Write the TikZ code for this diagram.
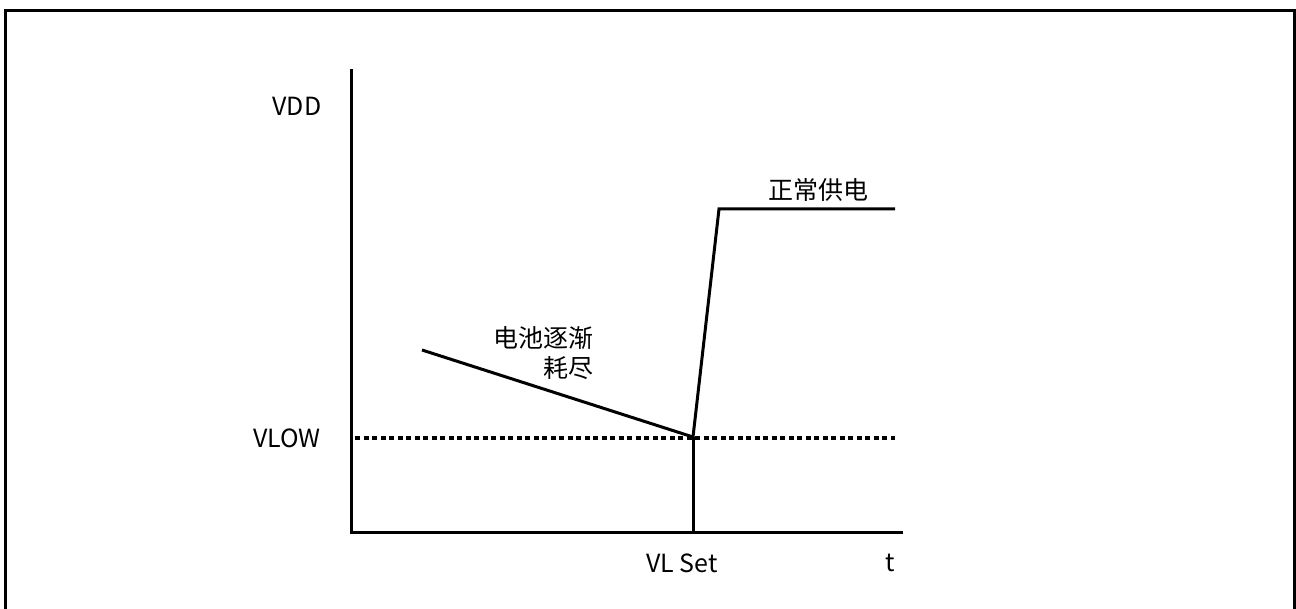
\documentclass[tikz,border=0pt]{standalone}
\usepackage{fontspec}
\setmainfont{Noto Sans CJK SC}
\begin{document}
\begin{tikzpicture}[x=1pt,y=-1pt,
  lbl/.style={font=\fontsize{25}{30}\selectfont, inner sep=0pt, anchor=center},
  curve/.style={line width=3pt, line join=miter},
  guide/.style={line width=3pt, dash pattern=on 5pt off 3.5pt}]
\useasboundingbox (0,0) rectangle (1296,609);
% frame
\draw[line width=2.7pt] (5.3,620) -- (5.3,10.3) -- (1294.5,10.3) -- (1294.5,620);
% axes
\coordinate (ytop) at (351,69);
\coordinate (orig) at (351,532);
\coordinate (xend) at (903,532);
\draw[line width=3pt] (ytop) -- (orig) -- (xend);
% points
\coordinate (dstart) at (422,350);
\coordinate (vl) at (693,437);
\coordinate (vlbase) at (693,532);
\coordinate (rise) at (719,209);
\coordinate (hend) at (895,209);
\coordinate (dashL) at (355,438);
\coordinate (dashR) at (895,438);
\draw[guide] (dashL) -- (dashR);
\draw[line width=3pt] (vl) -- (vlbase);
\draw[curve] (dstart) -- (vl) -- (rise) -- (hend);
% labels
\node[lbl] (vdd) at (297,106) {VDD};
\node[lbl] (vlow) at (287,438) {VLOW};
\node[lbl] (vlset) at (682,563) {VL Set};
\node[lbl] (t) at (890,563) {t};
\node[lbl] (normal) at (818,190) {正常供电};
\node[lbl, anchor=east] (bat1) at (594,338) {电池逐渐};
\node[lbl, anchor=east] (bat2) at (594,368) {耗尽};
\end{tikzpicture}
\end{document}
